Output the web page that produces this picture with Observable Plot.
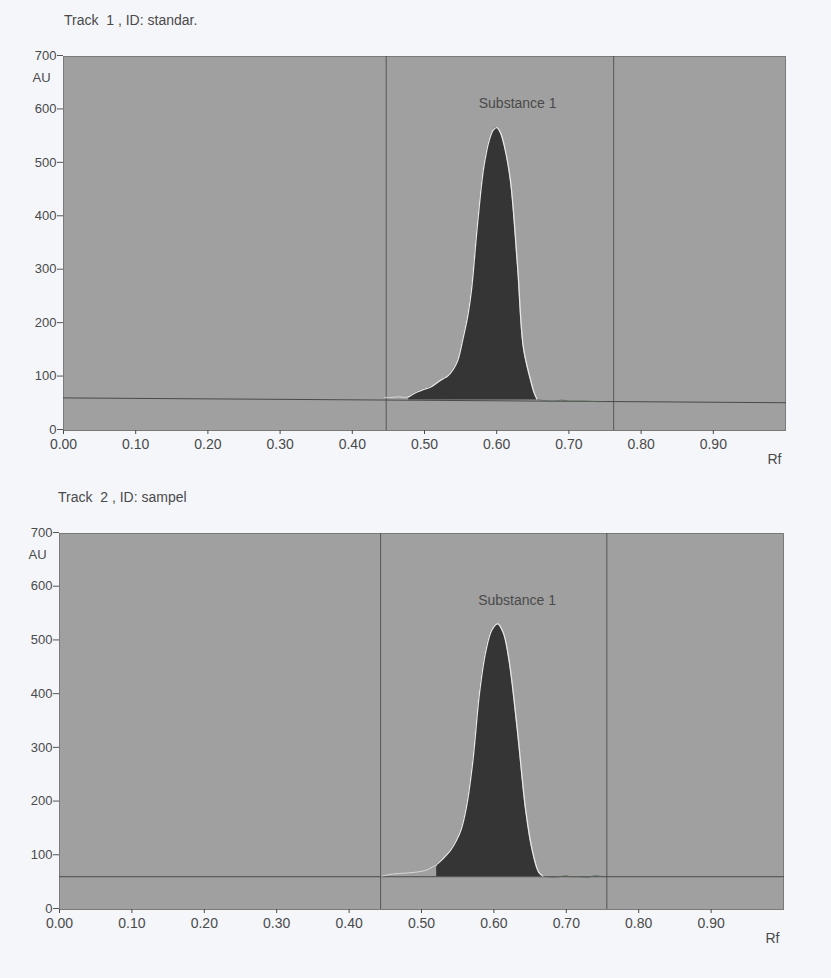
<!DOCTYPE html>
<html>
<head>
<meta charset="utf-8">
<script src="https://cdn.jsdelivr.net/npm/d3@7"></script>
<script src="https://cdn.jsdelivr.net/npm/@observablehq/plot@0.6"></script>
<style>
  body { margin: 0; background: #f4f6fa; font-family: "Liberation Sans", Arial, sans-serif; }
  #wrap { position: relative; width: 831px; height: 978px; }
  .title { position: absolute; font-size: 14px; line-height: 14px; color: #4a4a4a; white-space: pre; }
  .chart { position: absolute; left: 0; }
</style>
</head>
<body>
<div id="wrap">
  <div class="title" id="t1" style="left:64px; top:13px;"></div>
  <div class="chart" id="c1" style="top:30px;"></div>
  <div class="title" id="t2" style="left:58px; top:490px;"></div>
  <div class="chart" id="c2" style="top:510px;"></div>
</div>
<script>
// ---- data ----
const titles = ["Track  1 , ID: standar.", "Track  2 , ID: sampel"];
const xTicks = [0, 0.1, 0.2, 0.3, 0.4, 0.5, 0.6, 0.7, 0.8, 0.9];
const yTicks = [0, 100, 200, 300, 400, 500, 600, 700];
const peakLabel = "Substance 1";

// Track 1
const t1Markers = [0.447, 0.762];
const t1BaseRf = [0, 1];
const t1BaseAu = [61, 52];
const t1PreRf = [0.445, 0.455, 0.465, 0.472, 0.478];
const t1PreAu = [62, 62, 63, 62, 63];
const t1PeakRf = [0.478, 0.49, 0.499, 0.508, 0.518, 0.526, 0.532, 0.54, 0.546, 0.553, 0.56, 0.565, 0.573, 0.582, 0.59, 0.595, 0.6, 0.605, 0.611, 0.619, 0.629, 0.637, 0.647, 0.652, 0.656];
const t1PeakAu = [63, 72, 77, 81, 90, 97, 102, 115, 131, 170, 215, 262, 380, 492, 545, 562, 567, 558, 530, 468, 305, 155, 94, 70, 58];
const t1PostRf = [0.656, 0.665, 0.68, 0.69, 0.70, 0.72, 0.74, 0.75];
const t1PostAu = [58, 56, 55, 57, 55, 55, 54, 54];
const t1Floor = 57;
const t1LabelRf = 0.629, t1LabelAu = 612;

// Track 2
const t2Markers = [0.4435, 0.756];
const t2BaseRf = [0, 1];
const t2BaseAu = [61, 61];
const t2PreRf = [0.445, 0.46, 0.48, 0.50, 0.51, 0.516, 0.521];
const t2PreAu = [62, 66, 68, 71, 75, 80, 82];
const t2PeakRf = [0.521, 0.53, 0.54, 0.548, 0.555, 0.562, 0.571, 0.58, 0.589, 0.597, 0.605, 0.613, 0.621, 0.632, 0.644, 0.653, 0.662, 0.668];
const t2PeakAu = [84, 95, 110, 128, 150, 190, 277, 402, 482, 520, 532, 515, 463, 339, 184, 110, 69, 62];
const t2PostRf = [0.668, 0.68, 0.69, 0.70, 0.705, 0.715, 0.73, 0.74, 0.75];
const t2PostAu = [62, 60, 61, 63, 61, 61, 60, 63, 61];
const t2Floor = 61;
const t2LabelRf = 0.632, t2LabelAu = 575;

const zip = (xs, ys) => xs.map((x, i) => ({rf: x, au: ys[i]}));

function panel(o) {
  const peak = zip(o.peakRf, o.peakAu);
  return Plot.plot({
    width: 831, height: 440,
    marginTop: o.mt, marginLeft: o.ml, marginRight: o.mr, marginBottom: o.mb,
    style: {background: "transparent", fontFamily: "'Liberation Sans', Arial, sans-serif", fontSize: "13px", color: "#4a4a4a"},
    x: {domain: [0, 1], ticks: xTicks, tickFormat: d3.format(".2f"), label: null, tickSize: 4},
    y: {domain: [0, 700], ticks: yTicks, label: null, tickSize: 6},
    marks: [
      Plot.frame({fill: "#a0a0a0", stroke: "#7a7a7a"}),
      Plot.ruleX(o.markers, {stroke: "#444", strokeWidth: 0.8}),
      Plot.areaY(peak, {x: "rf", y1: o.floor, y2: "au", fill: "#353535", curve: "catmull-rom"}),
      Plot.line(zip(o.baseRf, o.baseAu), {x: "rf", y: "au", stroke: "#4a4a4a", strokeWidth: 1}),
      Plot.line(zip(o.preRf, o.preAu), {x: "rf", y: "au", stroke: "#d8d8d8", strokeWidth: 1, curve: "catmull-rom"}),
      Plot.line(peak, {x: "rf", y: "au", stroke: "#e6e6e6", strokeWidth: 1.3, curve: "catmull-rom"}),
      Plot.line(zip(o.postRf, o.postAu), {x: "rf", y: "au", stroke: "#5a6a5a", strokeWidth: 0.8, curve: "catmull-rom"}),
      Plot.text([peakLabel], {x: o.labelRf, y: o.labelAu, text: d => d, fill: "#4a4a4a", fontSize: 14}),
      Plot.axisY({ticks: yTicks, tickSize: 6, tickPadding: 1, fontSize: 13, stroke: "#555", dy: -1}),
      Plot.axisX({ticks: xTicks, tickSize: 4, tickPadding: 5, fontSize: 14, tickFormat: d3.format(".2f")}),
      Plot.text(["AU"], {frameAnchor: "top-left", text: d => d, dx: -31, dy: 16, textAnchor: "start", fill: "#4a4a4a", fontSize: 13}),
      Plot.text(["Rf"], {frameAnchor: "bottom-right", text: d => d, dx: -4, dy: 33, fill: "#4a4a4a", fontSize: 14})
    ]
  });
}

document.getElementById("t1").textContent = titles[0];
document.getElementById("t2").textContent = titles[1];

document.getElementById("c1").append(panel({
  mt: 26, ml: 63, mr: 46, mb: 40,
  markers: t1Markers, baseRf: t1BaseRf, baseAu: t1BaseAu,
  preRf: t1PreRf, preAu: t1PreAu, peakRf: t1PeakRf, peakAu: t1PeakAu,
  postRf: t1PostRf, postAu: t1PostAu, floor: t1Floor,
  labelRf: t1LabelRf, labelAu: t1LabelAu
}));
document.getElementById("c2").append(panel({
  mt: 23, ml: 59, mr: 48, mb: 41,
  markers: t2Markers, baseRf: t2BaseRf, baseAu: t2BaseAu,
  preRf: t2PreRf, preAu: t2PreAu, peakRf: t2PeakRf, peakAu: t2PeakAu,
  postRf: t2PostRf, postAu: t2PostAu, floor: t2Floor,
  labelRf: t2LabelRf, labelAu: t2LabelAu
}));
</script>
</body>
</html>
